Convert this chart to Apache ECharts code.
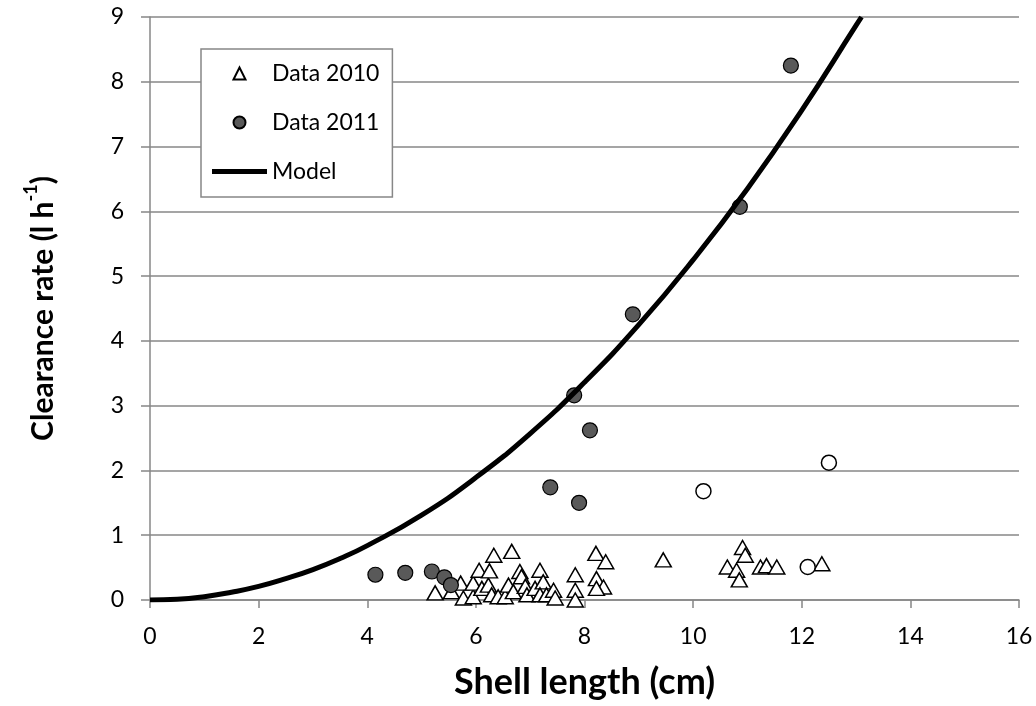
<!DOCTYPE html>
<html>
<head>
<meta charset="utf-8">
<script src="https://cdn.jsdelivr.net/npm/echarts@6/dist/echarts.min.js"></script>
<style>
  html, body { margin: 0; padding: 0; background: #fff; }
  #chart { width: 1036px; height: 706px; }
</style>
</head>
<body>
<div id="chart"></div>
<script>
// shell length (cm), clearance rate (l h-1)
var data2010 = [
    [5.25,0.11],[5.55,0.13],[5.72,0.26],[5.77,0.03],[5.95,0.05],[5.95,0.26],[6.06,0.46],[6.11,0.18],
    [6.23,0.23],[6.25,0.45],[6.29,0.08],[6.33,0.69],[6.41,0.05],[6.54,0.05],[6.60,0.23],[6.66,0.75],
    [6.69,0.13],[6.81,0.44],[6.84,0.36],[6.91,0.21],[6.94,0.08],[7.09,0.18],[7.18,0.46],[7.24,0.28],
    [7.18,0.08],[7.30,0.08],[7.43,0.15],[7.46,0.03],[7.83,0.39],[7.83,0.15],[7.83,0.0],[8.21,0.72],
    [8.39,0.59],[8.22,0.33],[8.35,0.20],[8.22,0.18],[9.45,0.62],[10.63,0.51],[10.80,0.46],[10.85,0.31],
    [10.91,0.81],[10.96,0.69],[11.24,0.51],[11.35,0.53],[11.54,0.51],[12.37,0.56]
];
var data2011 = [
    [4.15,0.39],[4.70,0.42],[5.19,0.44],[5.42,0.35],[5.54,0.23],[7.37,1.74],
    [7.81,3.16],[7.90,1.50],[8.10,2.62],[8.89,4.41],[10.86,6.07],[11.80,8.25]
];
// open circles, not in the legend
var data2011Open = [
    [10.19,1.68],[12.11,0.51],[12.50,2.12]
];
// model curve
var modelLine = [
    [0,0],[0.5,0.01],[1,0.05],[1.5,0.12],[2,0.21],[2.5,0.33],[3,0.47],[3.5,0.64],[4,0.84],
    [5,1.31],[6,1.89],[7,2.57],[8,3.36],[9,4.25],[10,5.25],[11,6.35],[12,7.56],[13,8.87],[13.1,9.0]
];

var font = 'Lato, "Open Sans", sans-serif';
var greyLine = '#878787';

var myChart = echarts.init(document.getElementById('chart'));

var option = {
    animation: false,
    textStyle: { fontFamily: font, color: '#000' },
    grid: { left: 150, right: 17, top: 17, bottom: 106 },
    legend: {
        orient: 'vertical',
        left: 201,
        top: 49,
        padding: [13, 13, 14, 11],
        itemWidth: 55,
        itemHeight: 12,
        itemGap: 26,
        borderColor: greyLine,
        borderWidth: 1.5,
        backgroundColor: '#fff',
        textStyle: { fontFamily: font, fontSize: 23, color: '#000' },
        data: [
            { name: 'Data 2010', icon: 'path://M0,10L5,0L10,10Z' },
            { name: 'Data 2011', icon: 'circle' },
            { name: 'Model', icon: 'path://M0,0H55V5H0Z', itemStyle: { color: '#000', borderWidth: 0 } }
        ]
    },
    xAxis: {
        type: 'value',
        min: 0,
        max: 16,
        interval: 2,
        name: 'Shell length (cm)',
        nameLocation: 'middle',
        nameGap: 64,
        nameTextStyle: { fontFamily: font, fontSize: 36, fontWeight: 'bold', color: '#000' },
        axisLine: { lineStyle: { color: greyLine, width: 1.5 } },
        axisTick: { show: true, length: 8, lineStyle: { color: greyLine, width: 1.5 } },
        axisLabel: { fontSize: 23, color: '#000', margin: 25 },
        splitLine: { show: false }
    },
    yAxis: {
        type: 'value',
        min: 0,
        max: 9,
        interval: 1,
        name: '{b|Clearance rate (l h}{sup|-1}{b|)}',
        nameLocation: 'middle',
        nameGap: 92,
        nameTextStyle: {
            fontFamily: font,
            color: '#000',
            rich: {
                b: { fontSize: 30, fontWeight: 'bold', fontFamily: font, lineHeight: 36, verticalAlign: 'bottom' },
                sup: { fontSize: 18, fontWeight: 'bold', fontFamily: font, lineHeight: 36, verticalAlign: 'top' }
            }
        },
        axisLine: { show: true, lineStyle: { color: greyLine, width: 1.5 } },
        axisTick: { show: true, length: 9, lineStyle: { color: greyLine, width: 1.5 } },
        axisLabel: { fontSize: 23, color: '#000', margin: 26 },
        splitLine: { show: true, lineStyle: { color: greyLine, width: 1.5 } }
    },
    series: [{
        name: 'Data 2010',
        type: 'scatter',
        symbol: 'triangle',
        symbolSize: [16, 14],
        itemStyle: { color: '#fff', borderColor: '#000', borderWidth: 1.5, opacity: 1 },
        data: data2010,
        z: 2
    }, {
        name: 'Data 2011',
        type: 'scatter',
        symbol: 'circle',
        symbolSize: 15,
        itemStyle: { color: '#595959', borderColor: '#000', borderWidth: 1.2, opacity: 1 },
        data: data2011,
        z: 3
    }, {
        name: 'Data 2011 open',
        type: 'scatter',
        symbol: 'circle',
        symbolSize: 15,
        itemStyle: { color: '#fff', borderColor: '#000', borderWidth: 1.5, opacity: 1 },
        data: data2011Open,
        z: 3
    }, {
        name: 'Model',
        type: 'line',
        smooth: true,
        showSymbol: false,
        symbol: 'none',
        lineStyle: { color: '#000', width: 5 },
        itemStyle: { color: '#000' },
        data: modelLine,
        z: 4
    }]
};

myChart.setOption(option);
</script>
</body>
</html>
